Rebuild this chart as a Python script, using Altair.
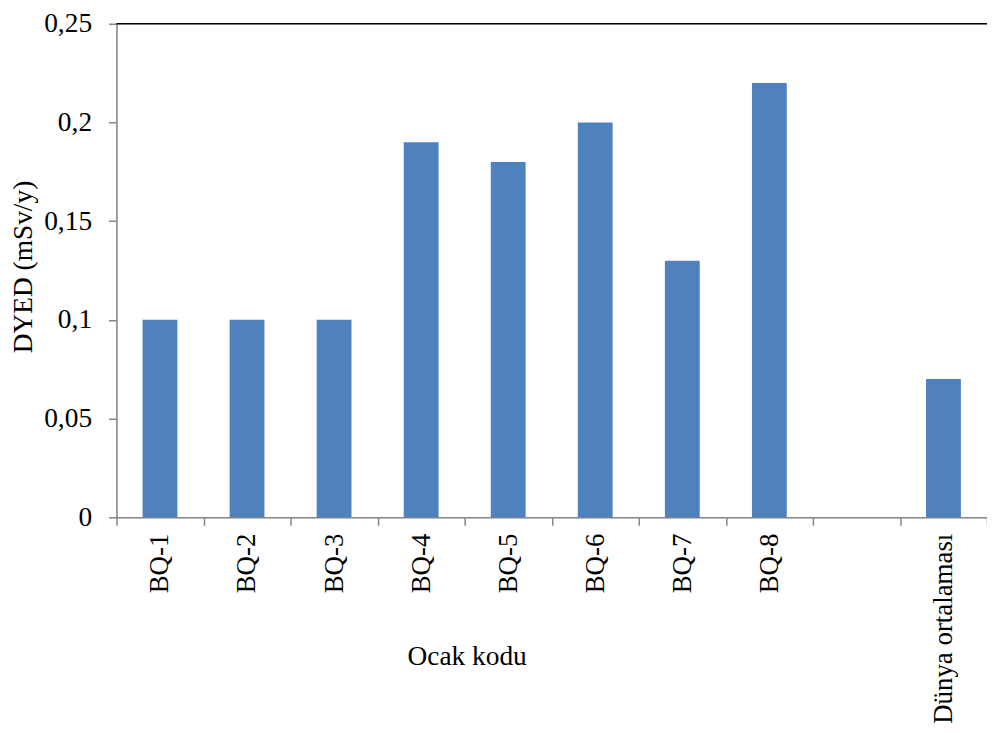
import altair as alt
import pandas as pd

categories = ["BQ-1", "BQ-2", "BQ-3", "BQ-4", "BQ-5", "BQ-6", "BQ-7", "BQ-8", " ", "Dünya ortalaması"]
bar_categories = ["BQ-1", "BQ-2", "BQ-3", "BQ-4", "BQ-5", "BQ-6", "BQ-7", "BQ-8", "Dünya ortalaması"]
values = [0.10, 0.10, 0.10, 0.19, 0.18, 0.20, 0.13, 0.22, 0.07]
y_ticks = [0, 0.05, 0.10, 0.15, 0.20, 0.25]

df = pd.DataFrame({"kod": bar_categories, "dyed": values})

FONT = "Liberation Serif"
GRAY = "#868686"
FS = 27.5

x_enc = alt.X(
    "kod:N",
    sort=categories,
    scale=alt.Scale(domain=categories, paddingInner=0, paddingOuter=0),
    axis=alt.Axis(
        title="Ocak kodu",
        labelAngle=-90,
        labelAlign="right",
        labelBaseline="middle",
        labelPadding=8,
        labelFontSize=27,
        labelFont=FONT,
        labelColor="black",
        labelLimit=0,
        tickBand="extent",
        tickSize=8,
        tickColor=GRAY,
        tickWidth=1.5,
        domainColor=GRAY,
        domainWidth=1.5,
        titleFont=FONT,
        titleFontSize=FS,
        titleFontWeight="normal",
        titleColor="black",
        titleX=352,
        titleY=140,
        titleAlign="center",
        titleBaseline="middle",
        grid=False,
    ),
)

y_enc = alt.Y(
    "dyed:Q",
    scale=alt.Scale(domain=[0, 0.25], nice=False),
    axis=alt.Axis(
        title="DYED (mSv/y)",
        values=y_ticks,
        labelExpr="replace(format(datum.value, '.2~f'), '.', ',')",
        labelFontSize=FS,
        labelFont=FONT,
        labelColor="black",
        labelPadding=17,
        tickSize=8,
        tickColor=GRAY,
        tickWidth=1.5,
        domainColor=GRAY,
        domainWidth=1.5,
        titleFont=FONT,
        titleFontSize=FS,
        titleFontWeight="normal",
        titleColor="black",
        titleAngle=-90,
        titleX=-93,
        titleY=244,
        titleAlign="center",
        titleBaseline="middle",
        grid=False,
    ),
)

bars = alt.Chart(df).mark_bar(color="#4F81BD", width=alt.RelativeBandSize(0.4)).encode(x=x_enc, y=y_enc)

top_line = alt.Chart(pd.DataFrame({"top": [0.25]})).mark_rule(color="black", strokeWidth=1.5).encode(
    y=alt.Y("top:Q")
)

chart = (
    alt.layer(bars, top_line)
    .properties(
        width=875,
        height=496,
        autosize=alt.AutoSizeParams(type="none"),
        padding={"left": 109, "top": 14, "right": 0, "bottom": 211},
    )
    .configure_view(stroke=None)
    .configure(background="white")
)

chart.save("out.html", embed_options={"renderer": "svg", "actions": False})
